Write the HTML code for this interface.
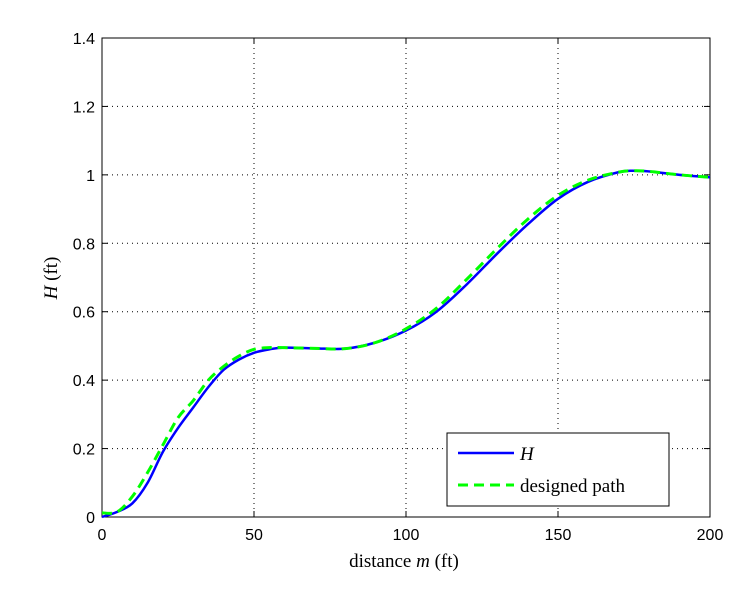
<!DOCTYPE html>
<html><head><meta charset="utf-8"><style>
body{margin:0;background:#fff;}
svg{display:block;font-family:"Liberation Sans",sans-serif;}
.ser{font-family:"Liberation Serif",serif;}
</style></head><body>
<svg id="chart" width="748" height="597">
<rect x="0" y="0" width="748" height="597" fill="#fff"/>
<g id="grid"></g>
<g id="ticks"></g>
<rect x="102" y="38" width="608" height="479" fill="none" stroke="#000" stroke-width="1"/>
<g id="series"></g>
<text x="404" y="567" text-anchor="middle" font-size="19" class="ser">distance <tspan font-style="italic">m</tspan> (ft)</text>
<text transform="translate(57,278) rotate(-90)" text-anchor="middle" font-size="19" class="ser"><tspan font-style="italic">H</tspan> (ft)</text>
<g>
<rect x="447" y="433" width="222" height="73" fill="#fff" stroke="#000" stroke-width="1"/>
<line x1="458" y1="453" x2="514" y2="453" stroke="#0000ff" stroke-width="2.5"/>
<text x="520" y="460" font-size="19" font-style="italic" class="ser">H</text>
<line x1="458" y1="485" x2="514" y2="485" stroke="#00ff00" stroke-width="3" stroke-dasharray="10,6"/>
<text x="520" y="492" font-size="19" class="ser">designed path</text>
</g>
</svg>
<script>
const xTicks=[0,50,100,150,200];
const yTicks=[0,0.2,0.4,0.6,0.8,1,1.2,1.4];
const yTickLabels=["0","0.2","0.4","0.6","0.8","1","1.2","1.4"];
const xs=[0,5,10,15,20,25,30,35,40,45,50,55,60,70,80,90,100,110,120,130,140,150,160,170,175,180,190,200];
const hVals=[0,0.015,0.04,0.1,0.19,0.26,0.32,0.38,0.43,0.46,0.48,0.49,0.495,0.493,0.492,0.51,0.545,0.6,0.68,0.77,0.855,0.93,0.98,1.008,1.012,1.01,1.0,0.993];
const dVals=[0.012,0.015,0.06,0.13,0.21,0.29,0.34,0.4,0.44,0.47,0.49,0.495,0.495,0.493,0.492,0.51,0.55,0.61,0.695,0.785,0.87,0.94,0.985,1.008,1.012,1.01,1.0,0.993];
const X=v=>102+v/200*608, Y=v=>517-v/1.4*479;
const NS="http://www.w3.org/2000/svg";
const grid=document.getElementById('grid'),ticks=document.getElementById('ticks'),ser=document.getElementById('series');
function mk(tag,attrs,parent){const e=document.createElementNS(NS,tag);for(const k in attrs)e.setAttribute(k,attrs[k]);parent.appendChild(e);return e;}
xTicks.forEach(t=>{
 if(t>0&&t<200){const g=mk('line',{x1:X(t),x2:X(t),y1:38,y2:517,stroke:'#000','stroke-width':1,'stroke-dasharray':'1,4'},grid);
 
 }
 mk('line',{x1:X(t),x2:X(t),y1:517,y2:511,stroke:'#000'},ticks);
 mk('line',{x1:X(t),x2:X(t),y1:38,y2:44,stroke:'#000'},ticks);
 const tx=mk('text',{x:X(t),y:540,'text-anchor':'middle','font-size':16},ticks);tx.textContent=t;
 
 
});
yTicks.forEach((t,i)=>{
 if(t>0&&t<1.4){const g=mk('line',{x1:102,x2:710,y1:Y(t),y2:Y(t),stroke:'#000','stroke-width':1,'stroke-dasharray':'1,4'},grid);
 
 }
 mk('line',{x1:102,x2:108,y1:Y(t),y2:Y(t),stroke:'#000'},ticks);
 mk('line',{x1:710,x2:704,y1:Y(t),y2:Y(t),stroke:'#000'},ticks);
 const tx=mk('text',{x:95,y:Y(t)+6,'text-anchor':'end','font-size':16},ticks);tx.textContent=yTickLabels[i];
 
 
});
function pathFor(vals){
 const p=xs.map((x,i)=>[X(x),Y(vals[i])]);
 let d='M'+p[0][0]+','+p[0][1];
 for(let i=0;i<p.length-1;i++){
  const p0=p[Math.max(0,i-1)],p1=p[i],p2=p[i+1],p3=p[Math.min(p.length-1,i+2)];
  const c1=[p1[0]+(p2[0]-p0[0])/6,p1[1]+(p2[1]-p0[1])/6],c2=[p2[0]-(p3[0]-p1[0])/6,p2[1]-(p3[1]-p1[1])/6];
  d+=' C'+c1+' '+c2+' '+p2;
 }
 return d;
}
const hl=mk('path',{d:pathFor(hVals),fill:'none',stroke:'#0000ff','stroke-width':2.5},ser);


const dl=mk('path',{d:pathFor(dVals),fill:'none',stroke:'#00ff00','stroke-width':3,'stroke-dasharray':'10,6'},ser);


</script>
</body></html>
